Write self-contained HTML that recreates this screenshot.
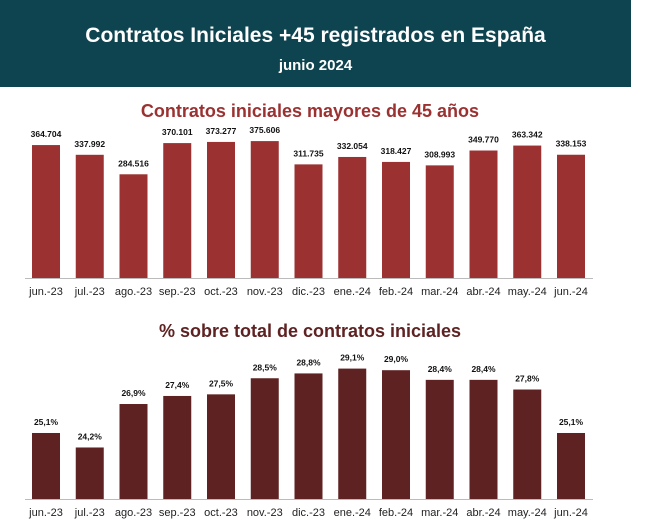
<!DOCTYPE html>
<html><head><meta charset="utf-8"><style>
body{margin:0;width:649px;height:524px;background:#fff;font-family:"Liberation Sans",sans-serif;overflow:hidden;position:relative}
.hdr{position:absolute;left:0;top:0;width:631px;height:87px;background:#0e4450;color:#fff;text-align:center}
.hdr .t{position:absolute;top:24px;width:100%;font-size:21px;font-weight:bold}
.hdr .s{position:absolute;top:57px;width:100%;font-size:15px;font-weight:bold}
svg{position:absolute;left:0;top:0}
</style></head><body>
<div class="hdr">
<div class="t">Contratos Iniciales +45 registrados en España</div>
<div class="s">junio 2024</div>
</div>
<svg id="c" width="649" height="524"></svg>
<script>
const categories=["jun.-23","jul.-23","ago.-23","sep.-23","oct.-23","nov.-23","dic.-23","ene.-24","feb.-24","mar.-24","abr.-24","may.-24","jun.-24"];
const contratos=[364704,337992,284516,370101,373277,375606,311735,332054,318427,308993,349770,363342,338153];
const contratosLabels=["364.704","337.992","284.516","370.101","373.277","375.606","311.735","332.054","318.427","308.993","349.770","363.342","338.153"];
const porcentaje=[25.1,24.2,26.9,27.4,27.5,28.5,28.8,29.1,29.0,28.4,28.4,27.8,25.1];
const porcentajeLabels=["25,1%","24,2%","26,9%","27,4%","27,5%","28,5%","28,8%","29,1%","29,0%","28,4%","28,4%","27,8%","25,1%"];
const svg=document.getElementById('c');const NS='http://www.w3.org/2000/svg';
function mk(t,a,txt){const e=document.createElementNS(NS,t);for(const k in a)e.setAttribute(k,a[k]);if(txt!==undefined)e.textContent=txt;svg.appendChild(e);return e;}
const xC=i=>46+i*43.75;
function chart(vals,labels,base,yOf,color,title,titleColor,titleY,prefix){
  const t=mk('text',{x:310,y:titleY,'text-anchor':'middle','font-size':18,'font-weight':'bold',fill:titleColor},title);
  
  
  const ax=mk('line',{x1:25,x2:593,y1:base+0.5,y2:base+0.5,stroke:'#bbb'});
  
  
  vals.forEach((v,i)=>{
    const y=yOf(v);
    const r=mk('rect',{x:xC(i)-14,y:y,width:28,height:base-y,fill:color});
    
    
    const l=mk('text',{x:xC(i),y:y-8,'text-anchor':'middle','font-size':8.5,'font-weight':'bold',fill:'#111'},labels[i]);
    
    
    const c=mk('text',{x:xC(i),y:base+17,'text-anchor':'middle','font-size':11,fill:'#222'},categories[i]);
    
    
  });
}
chart(contratos,contratosLabels,278,v=>278-v*0.3645/1000,'#9b3131','Contratos iniciales mayores de 45 años','#9b3131',117,'contratos');
chart(porcentaje,porcentajeLabels,499,v=>499-(v-21.0)*16.1,'#5f2222','% sobre total de contratos iniciales','#5f2222',337,'porcentaje');
</script>
</body></html>
